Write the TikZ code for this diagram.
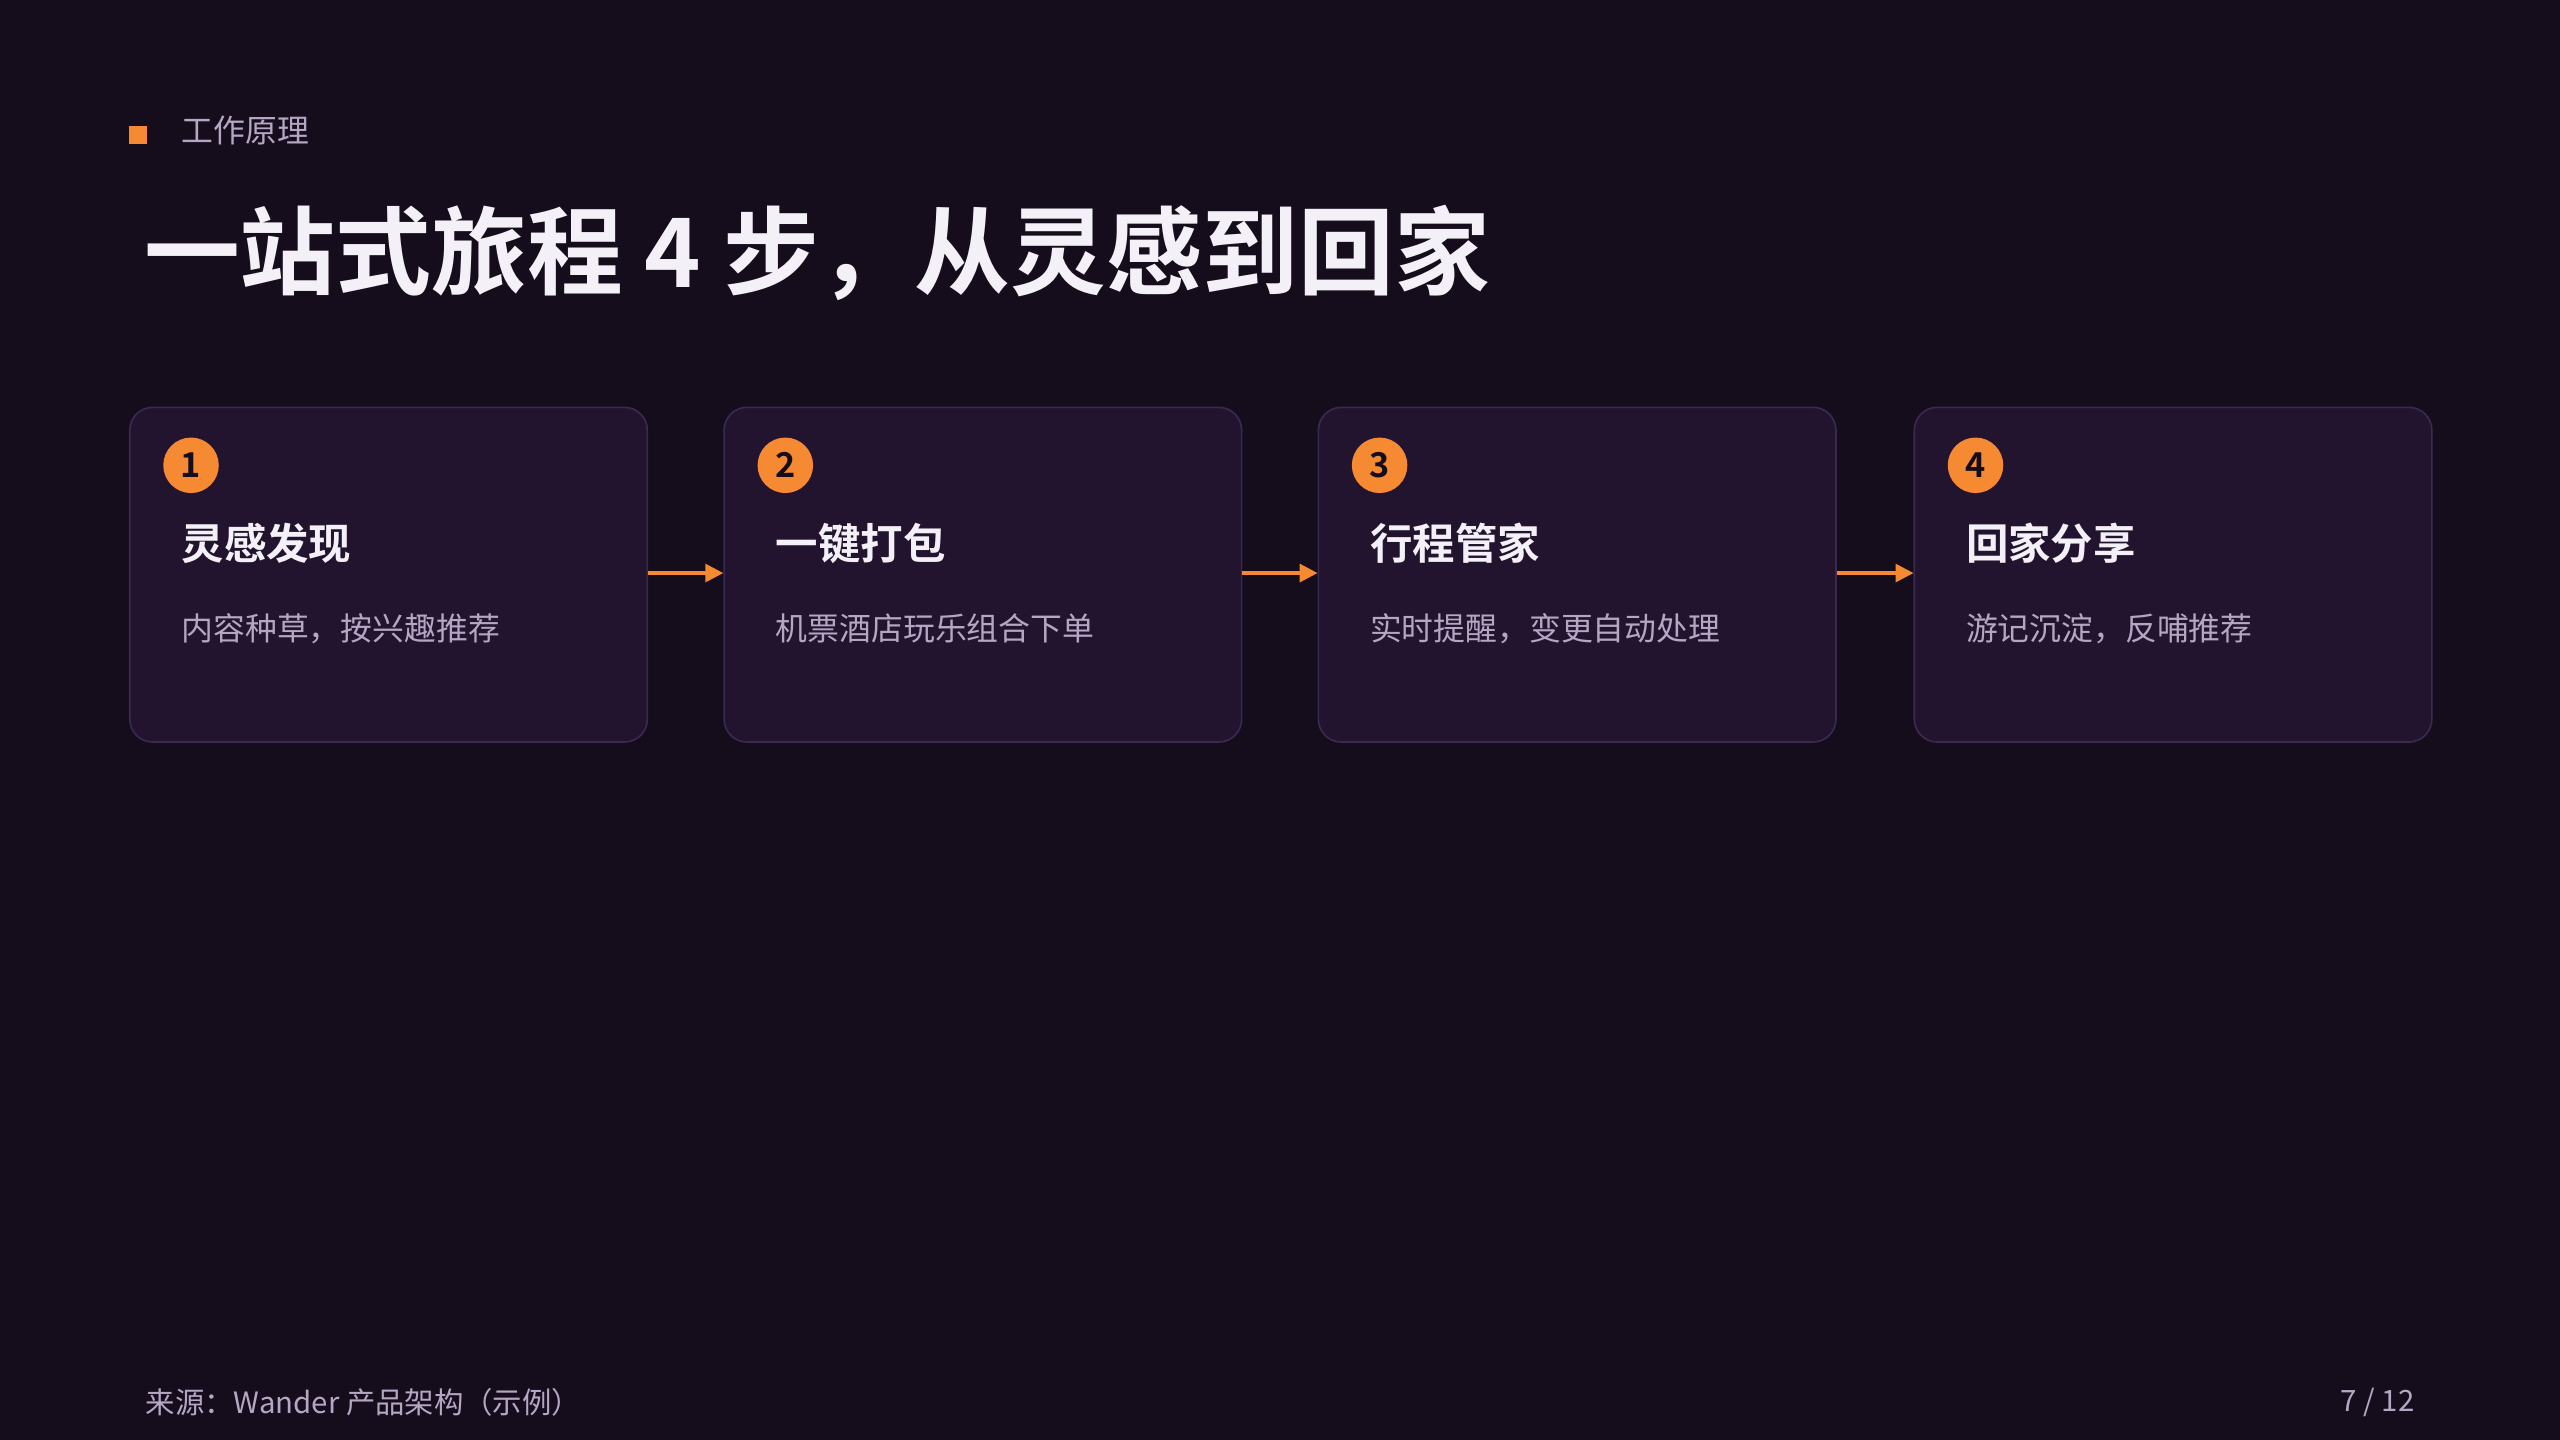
\documentclass[tikz,border=0pt]{standalone}
\usepackage{fontspec}
\setmainfont{Noto Sans CJK SC}[BoldFont={Noto Sans CJK SC Bold}]
\usetikzlibrary{arrows.meta}
\definecolor{bg}{HTML}{150C1C}
\definecolor{card}{HTML}{22142F}
\definecolor{cardline}{HTML}{3A2A52}
\definecolor{org}{HTML}{F58A33}
\definecolor{sub}{HTML}{B5A6C4}
\definecolor{hd}{HTML}{F4F0F7}
\tikzset{
 cardbox/.style={draw=cardline,fill=card,rounded corners=14pt,line width=1pt,minimum width=317pt,minimum height=205pt,anchor=north west},
 num/.style={circle,fill=org,minimum size=34pt,inner sep=0pt,font=\fontsize{21}{21}\selectfont\bfseries,text=bg},
 ctitle/.style={anchor=west,inner sep=0pt,text=hd,font=\fontsize{26}{30}\selectfont\bfseries},
 csub/.style={anchor=west,inner sep=0pt,text=sub,font=\fontsize{19.5}{23}\selectfont},
 flow/.style={draw=org,line width=2pt,-{Triangle[length=11pt,width=11pt]}}
}
\begin{document}
\begin{tikzpicture}[x=1pt,y=-1pt]
\fill[bg] (0,0) rectangle (1568,882);
\useasboundingbox (0,0) rectangle (1568,882);
\fill[org] (79,77) rectangle (90,88);
\node[anchor=west,inner sep=0pt,text=sub,font=\fontsize{19.5}{22}\selectfont] (kick) at (111,80) {工作原理};
\node[anchor=west,inner sep=0pt,text=hd,font=\fontsize{58.7}{66}\selectfont\bfseries] (title) at (88,155) {一站式旅程 4 步，从灵感到回家};
\foreach \i/\x/\t/\s in {1/79/灵感发现/内容种草，按兴趣推荐,2/443/一键打包/机票酒店玩乐组合下单,3/807/行程管家/实时提醒，变更自动处理,4/1172/回家分享/游记沉淀，反哺推荐}{
 \node[cardbox] (c\i) at (\x,249) {};
 \node[num] (n\i) at (\x+38,285) {\i};
 \node[ctitle] (t\i) at (\x+32,333) {\t};
 \node[csub] (s\i) at (\x+32,385) {\s};
}
\foreach \a/\b in {1/2,2/3,3/4}{
 \draw[flow] (c\a.east|-0,351) -- (c\b.west|-0,351);
}
\node[anchor=west,inner sep=0pt,text=sub,font=\fontsize{18}{22}\selectfont] (src) at (89,859) {来源：Wander 产品架构（示例）};
\node[anchor=east,inner sep=0pt,text=sub,font=\fontsize{18}{22}\selectfont] (pg) at (1479,859) {7 / 12};
\end{tikzpicture}
\end{document}
